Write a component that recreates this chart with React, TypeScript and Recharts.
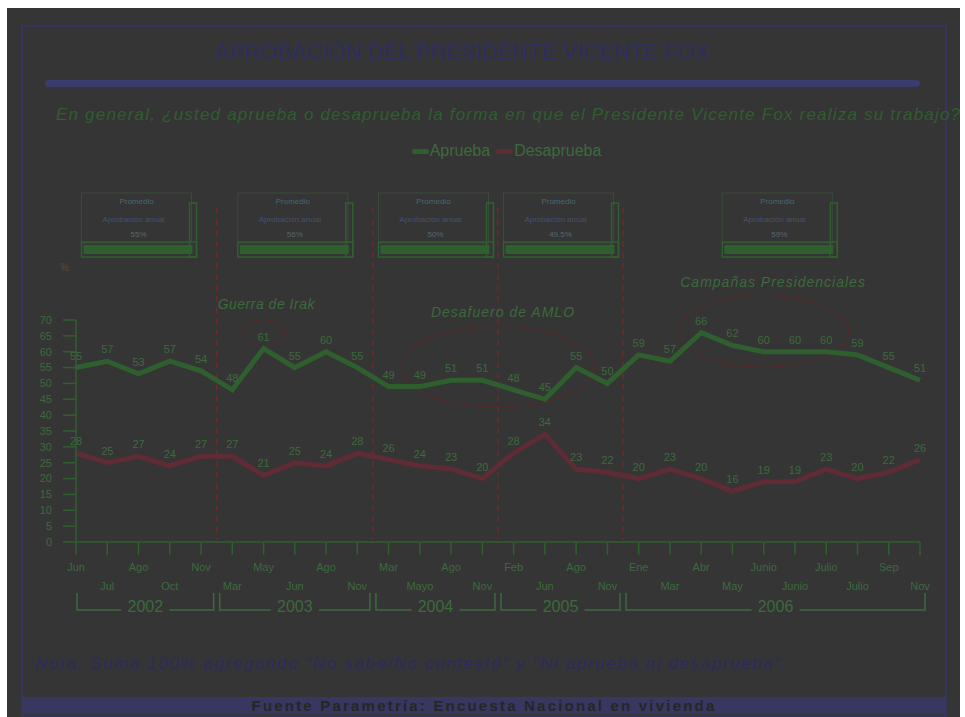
import React from 'react'
import { LineChart, Line, XAxis, YAxis, Legend, LabelList, usePlotArea } from 'recharts'

// meses de cada medición (jun 2002 - nov 2006)
const months = ['Jun', 'Jul', 'Ago', 'Oct', 'Nov', 'Mar', 'May', 'Jun', 'Ago', 'Nov', 'Mar', 'Mayo', 'Ago', 'Nov', 'Feb', 'Jun', 'Ago', 'Nov', 'Ene', 'Mar', 'Abr', 'May', 'Junio', 'Junio', 'Julio', 'Julio', 'Sep', 'Nov']
const aprueba = [55, 57, 53, 57, 54, 48, 61, 55, 60, 55, 49, 49, 51, 51, 48, 45, 55, 50, 59, 57, 66, 62, 60, 60, 60, 59, 55, 51]
const desaprueba = [28, 25, 27, 24, 27, 27, 21, 25, 24, 28, 26, 24, 23, 20, 28, 34, 23, 22, 20, 23, 20, 16, 19, 19, 23, 20, 22, 26]
const yTicks = [0, 5, 10, 15, 20, 25, 30, 35, 40, 45, 50, 55, 60, 65, 70]

const years = ['2002', '2003', '2004', '2005', '2006']
const yearFirst = [0, 5, 10, 14, 18]
const yearLast = [4, 9, 13, 17, 27]
const yearAverage = ['55%', '56%', '50%', '49.5%', '59%']
const events = ['Guerra de Irak', 'Desafuero de AMLO', 'Campañas Presidenciales']

const data = months.map((m, i) => ({ i, mes: m, Aprueba: aprueba[i], Desaprueba: desaprueba[i] }))

const GREEN = '#2f5f2f'
const RED = '#5f2b35'
const TXT = '#3c6a3c'
const FONT = "'Liberation Sans', Arial, sans-serif"

function MonthTick({ x, y, payload }: any) {
  const i = payload.value
  return (
    <text x={x} y={y + (i % 2 === 0 ? 14 : 33)} textAnchor="middle" fontSize={11} fill={TXT}>
      {months[i]}
    </text>
  )
}

function Overlay() {
  const pa = usePlotArea()
  if (!pa) return null
  const n = months.length - 1
  const sx = (i: number) => pa.x + (i / n) * pa.width
  const sy = (v: number) => pa.y + pa.height * (1 - v / 70)
  const bottom = pa.y + pa.height
  const boxTop = pa.y - 127

  return (
    <g>
      {/* separadores de año */}
      {yearFirst.slice(1).map((f) => (
        <line key={f} x1={sx(f - 0.5)} x2={sx(f - 0.5)} y1={pa.y - 112} y2={bottom - 2} stroke="#6a2b2b" strokeWidth={1.5} strokeDasharray="6 5" />
      ))}

      {/* recuadros de promedio */}
      {years.map((yr, k) => {
        const cx = (sx(yearFirst[k]) + sx(yearLast[k])) / 2
        const l = cx - 57
        return (
          <g key={yr}>
            <rect x={l} y={boxTop} width={110} height={50} fill="none" stroke="#3b4a3b" strokeWidth={1} />
            <rect x={cx + 51} y={boxTop + 10} width={7} height={54} fill="none" stroke={GREEN} strokeWidth={1.5} />
            <rect x={l} y={boxTop + 49} width={115} height={15} fill="none" stroke={GREEN} strokeWidth={1.5} />
            <rect x={l + 2} y={boxTop + 52} width={109} height={9} fill={GREEN} />
            <text x={cx - 2} y={boxTop + 11} textAnchor="middle" fontSize={8} fill="#4a6670">Promedio</text>
            <text x={cx - 5} y={boxTop + 29} textAnchor="middle" fontSize={8} fill="#45506e">Aprobación anual</text>
            <text x={cx} y={boxTop + 44} textAnchor="middle" fontSize={8} fill="#566870">{yearAverage[k]}</text>
          </g>
        )
      })}

      {/* elipses */}
      <ellipse cx={sx(6)} cy={sy(66)} rx={21} ry={13} fill="none" stroke="#5a2828" strokeWidth={1} />
      <ellipse cx={sx(13.5)} cy={sy(55.2)} rx={97} ry={40} fill="none" stroke="#5a2828" strokeWidth={1} />
      <ellipse cx={sx(22)} cy={sy(66.4)} rx={85} ry={36} fill="none" stroke="#5a2828" strokeWidth={1} />

      {/* eventos */}
      <text x={sx(4.5) + 1} y={sy(73.5)} fontSize={14} fontStyle="italic" fill={TXT} letterSpacing={0.5}>{events[0]}</text>
      <text x={sx(13.66)} y={sy(71)} fontSize={14} fontStyle="italic" fill={TXT} textAnchor="middle" letterSpacing={1}>{events[1]}</text>
      <text x={sx(22.3)} y={sy(80.5)} fontSize={14} fontStyle="italic" fill={TXT} textAnchor="middle" letterSpacing={1}>{events[2]}</text>

      <text x={pa.x - 16} y={pa.y - 49} fontSize={10} fill="#5a4a3a">%</text>

      {/* corchetes de años */}
      {years.map((yr, k) => {
        const l = k === 0 ? sx(0) + 1 : sx(yearFirst[k] - 0.5) + 3
        const r = k === years.length - 1 ? sx(n) + 5 : sx(yearLast[k] + 0.5) - 3
        const c = (l + r) / 2
        const yb = bottom + 68
        return (
          <g key={yr} stroke={TXT} strokeWidth={1.5} fill="none">
            <polyline points={`${l},${bottom + 51} ${l},${yb} ${c - 24},${yb}`} />
            <polyline points={`${c + 24},${yb} ${r},${yb} ${r},${bottom + 51}`} />
            <text x={c} y={yb + 2} textAnchor="middle" fontSize={16} fill={TXT} stroke="none">{yr}</text>
          </g>
        )
      })}
    </g>
  )
}

function renderLegend(props: any) {
  const items = props.payload || []
  return (
    <div style={{ display: 'flex', justifyContent: 'center', gap: 6, fontSize: 16, color: TXT, fontFamily: FONT }}>
      {items.map((p: any) => (
        <span key={p.value} style={{ display: 'flex', alignItems: 'center' }}>
          <span style={{ width: 17, height: 5, borderRadius: 3, background: p.color, marginRight: 1 }} />
          {p.value}
        </span>
      ))}
    </div>
  )
}

export default function App() {
  return (
    <div style={{ position: 'absolute', left: 0, top: 0, width: 965, height: 717, background: '#fff', fontFamily: FONT, overflow: 'hidden' }}>
      <div style={{ position: 'absolute', left: 7, top: 8, width: 953, height: 709, background: '#353535', overflow: 'hidden' }}>
        <div style={{ position: 'absolute', left: 14, top: 17, width: 922, height: 688, border: '2px solid #34345c' }} />
        <div style={{ position: 'absolute', left: 15, top: 689, width: 924, height: 17, background: '#37375f', color: '#262626', fontWeight: 'bold', fontSize: 15, lineHeight: '17px', textAlign: 'center', letterSpacing: 2.2 }}>
          Fuente Parametría: Encuesta Nacional en vivienda
        </div>
        <div style={{ position: 'absolute', left: 0, width: 910, top: 31, fontSize: 22, lineHeight: '26px', color: '#2e2e60', textAlign: 'center' }}>
          APROBACIÓN DEL PRESIDENTE VICENTE FOX
        </div>
        <div style={{ position: 'absolute', left: 38, top: 72, width: 875, height: 7, borderRadius: 4, background: '#3b3b6e' }} />
        <div style={{ position: 'absolute', left: 49, top: 97, whiteSpace: 'nowrap', fontSize: 17, lineHeight: '20px', fontStyle: 'italic', color: '#2f5e2f', letterSpacing: 1.2 }}>
          En general, ¿usted aprueba o desaprueba la forma en que el Presidente Vicente Fox  realiza su trabajo?
        </div>
        <div style={{ position: 'absolute', left: 28, top: 646, whiteSpace: 'nowrap', fontSize: 17, lineHeight: '20px', fontStyle: 'italic', color: '#2c2c5c', letterSpacing: 1.6 }}>
          Nota: Suma 100% agregando "No sabe/No contestó" y "Ni aprueba ni desaprueba".
        </div>
      </div>
      <div style={{ position: 'absolute', left: 0, top: 0 }}>
        <LineChart width={965} height={717} data={data} margin={{ top: 320, right: 45, bottom: 115, left: 36 }}>
          <XAxis
            type="number"
            dataKey="i"
            domain={[0, months.length - 1]}
            ticks={data.map((d) => d.i)}
            interval={0}
            tickSize={13}
            height={60}
            stroke={GREEN}
            axisLine={{ stroke: GREEN, strokeWidth: 1.5 }}
            tickLine={{ stroke: GREEN, strokeWidth: 1.5 }}
            tick={<MonthTick />}
          />
          <YAxis
            domain={[0, 70]}
            ticks={yTicks}
            interval={0}
            width={40}
            tickSize={13}
            tickMargin={11}
            axisLine={{ stroke: GREEN, strokeWidth: 1.5 }}
            tickLine={{ stroke: GREEN, strokeWidth: 1.5 }}
            tick={{ fill: TXT, fontSize: 11 }}
          />
          <Legend verticalAlign="middle" align="center" content={renderLegend} wrapperStyle={{ top: 142, left: 24, width: 965 }} />
          <Overlay />
          <Line type="linear" dataKey="Aprueba" name="Aprueba" stroke={GREEN} strokeWidth={5} dot={false} isAnimationActive={false}>
            <LabelList dataKey="Aprueba" position="top" offset={8} fill={TXT} fontSize={11} />
          </Line>
          <Line type="linear" dataKey="Desaprueba" name="Desaprueba" stroke={RED} strokeWidth={5} dot={false} isAnimationActive={false}>
            <LabelList dataKey="Desaprueba" position="top" offset={8} fill={TXT} fontSize={11} />
          </Line>
        </LineChart>
      </div>
    </div>
  )
}
